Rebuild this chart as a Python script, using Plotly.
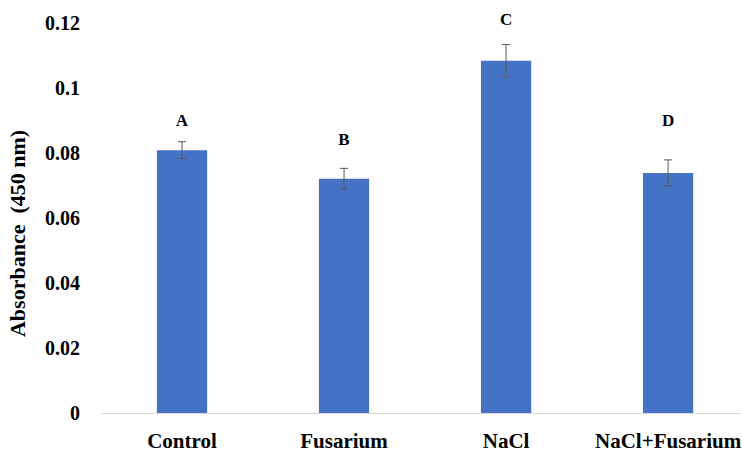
import plotly.graph_objects as go

categories = ["Control", "Fusarium", "NaCl", "NaCl+Fusarium"]
absorbance = [0.0809, 0.0721, 0.1084, 0.0739]
error = [0.0026, 0.0032, 0.0050, 0.0040]
letters = ["A", "B", "C", "D"]
letter_y = [0.0895, 0.0838, 0.1207, 0.0897]
y_ticks = [0, 0.02, 0.04, 0.06, 0.08, 0.1, 0.12]

FONT = "Liberation Serif"

fig = go.Figure()
fig.add_trace(go.Bar(
    x=categories, y=absorbance,
    marker=dict(color="#4472C4", line=dict(width=0)),
    width=0.31,
    error_y=dict(type="data", array=error, color="#595959", thickness=1, width=4),
))

fig.add_trace(go.Scatter(
    x=categories, y=letter_y, mode="text",
    text=["<b>%s</b>" % l for l in letters],
    textposition="middle center",
    textfont=dict(family=FONT, size=17, color="#000000"),
    cliponaxis=False, hoverinfo="skip",
))

fig.add_annotation(xref="paper", yref="paper", x=(18 - 101) / 641, y=0.45,
                   text="<b>Absorbance  (450 nm)</b>", textangle=-90,
                   showarrow=False, xanchor="center", yanchor="middle",
                   font=dict(family=FONT, size=22, color="#000000"))

fig.update_layout(
    width=742, height=453,
    margin=dict(l=101, r=0, t=15, b=38),
    paper_bgcolor="white", plot_bgcolor="white",
    showlegend=False,
)
fig.update_xaxes(
    type="category", range=[-0.5, 3.45],
    showline=True, linecolor="#D9D9D9", linewidth=1,
    showgrid=False, zeroline=False, ticks="",
    tickfont=dict(family=FONT, size=21, color="#000000"),
    tickprefix="<b>", ticksuffix="</b>",
    ticklabelstandoff=9,
)
fig.update_yaxes(
    range=[0, 0.1225], tickvals=y_ticks,
    ticktext=["<b>%s</b>" % ("0" if v == 0 else ("%g" % v)) for v in y_ticks],
    showline=False, showgrid=False, zeroline=False, ticks="",
    tickfont=dict(family=FONT, size=20, color="#000000"),
    ticklabelstandoff=20,
)

fig.write_html("out.html")
